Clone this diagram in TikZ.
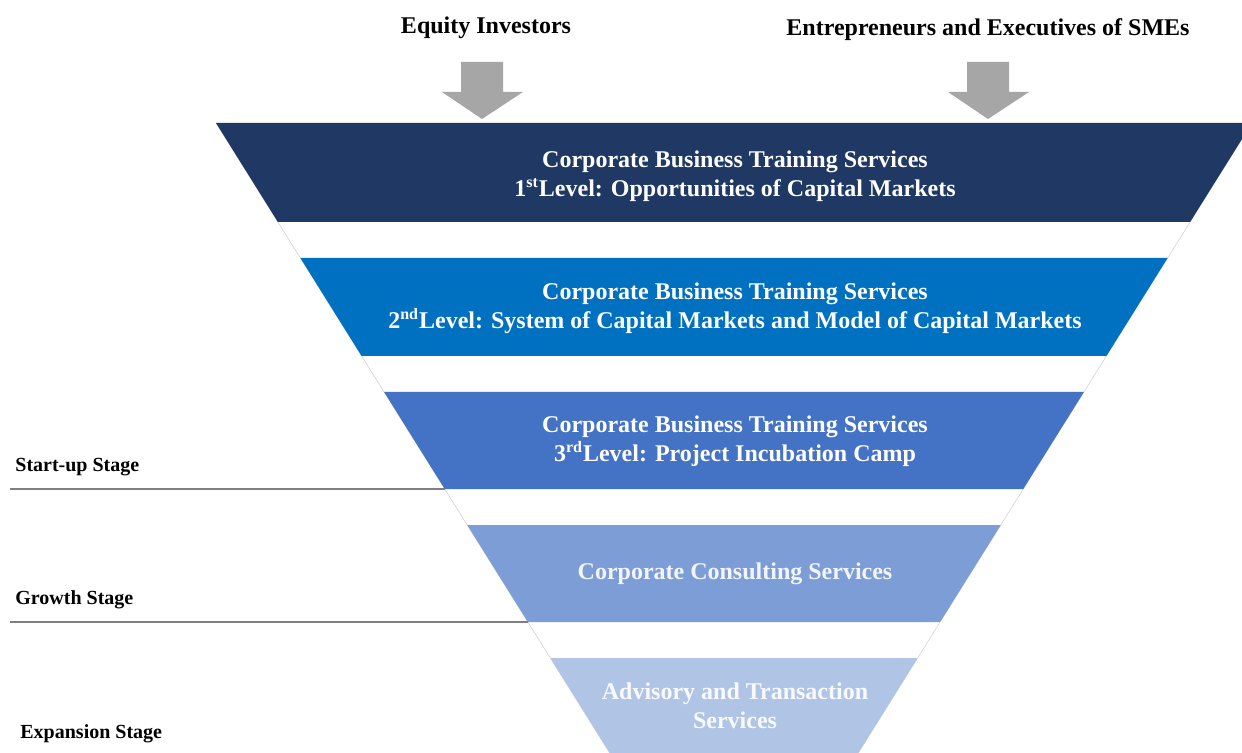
\documentclass[tikz,border=0pt]{standalone}
\usepackage{fontspec}
\setmainfont{Liberation Serif}
\usetikzlibrary{positioning}

\definecolor{levelone}{HTML}{1F3864}
\definecolor{leveltwo}{HTML}{0070C0}
\definecolor{levelthree}{HTML}{4472C4}
\definecolor{consulting}{HTML}{7C9DD6}
\definecolor{advisory}{HTML}{B0C4E6}
\definecolor{arrowgray}{HTML}{A6A6A6}
\definecolor{stagegray}{HTML}{808080}

\begin{document}
\begin{tikzpicture}[
    x=.5pt, y=-.5pt,
    band text/.style={
        text=white,
        font=\fontsize{12}{14.5}\selectfont\bfseries,
        align=center
    },
    stage/.style={
        anchor=west,
        inner sep=0pt,
        font=\fontsize{10}{12}\selectfont\bfseries
    },
    stage line/.style={
        color=stagegray,
        line width=1pt
    },
    funnel edge/.style={
        color=lightgray!70,
        line width=0.3pt
    }
]

\clip (0,0) rectangle (1242,753);
\fill[white] (0,0) rectangle (1242,753);

% who comes in at the top
\draw (486,28) node[font=\fontsize{12}{14}\selectfont\bfseries] (investors) {Equity Investors};
\draw (988,30) node[font=\fontsize{12}{14}\selectfont\bfseries] (owners) {Entrepreneurs and Executives of SMEs};

\fill[arrowgray] (461,62) -- (503,62) -- (503,92) -- (523,92) -- (482,119) -- (442,92) -- (461,92) -- cycle;
\fill[arrowgray] (967,62) -- (1009,62) -- (1009,92) -- (1029,92) -- (988,119) -- (948,92) -- (967,92) -- cycle;

% funnel outline
\draw[style=funnel edge] (216,123) -- (609.75,753);
\draw[style=funnel edge] (1252,123) -- (858.25,753);

% blocks
\fill[levelone] (216,123) -- (1252,123) -- (1190.1,222) -- (277.9,222) -- cycle;
\fill[leveltwo] (300.4,258) -- (1167.6,258) -- (1106.4,356) -- (361.6,356) -- cycle;
\fill[levelthree] (384.1,392) -- (1083.9,392) -- (1023.25,489) -- (444.75,489) -- cycle;
\fill[consulting] (467.25,525) -- (1000.75,525) -- (940.1,622) -- (527.9,622) -- cycle;
\fill[advisory] (550.4,658) -- (917.6,658) -- (858.25,753) -- (609.75,753) -- cycle;

\draw (735,176) node[style=band text] (level1) {Corporate Business Training Services\\1\textsuperscript{st}Level: Opportunities of Capital Markets};
\draw (735,308) node[style=band text] (level2) {Corporate Business Training Services\\2\textsuperscript{nd}Level: System of Capital Markets and Model of Capital Markets};
\draw (735,441) node[style=band text] (level3) {Corporate Business Training Services\\3\textsuperscript{rd}Level: Project Incubation Camp};
\draw (735,574) node[style=band text, text=white!90!consulting] (consult) {Corporate Consulting Services};
\draw (735,706) node[style=band text, text=white!92!advisory] (advise) {Advisory and Transaction\\Services};

% stages
\draw (15,467) node[style=stage] (startup) {Start-up Stage};
\draw (15,600) node[style=stage] (growth) {Growth Stage};
\draw (20,734) node[style=stage] (expansion) {Expansion Stage};

\draw[style=stage line] (10,489) -- (444.75,489);
\draw[style=stage line] (10,622) -- (527.9,622);

\end{tikzpicture}
\end{document}
